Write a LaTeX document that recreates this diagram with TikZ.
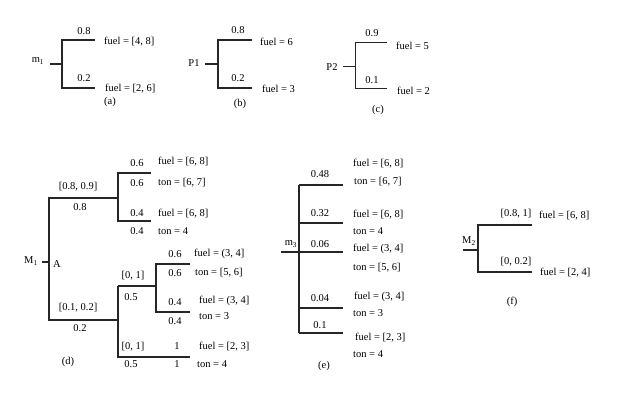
\documentclass[tikz,border=0pt]{standalone}
\usepackage{fontspec}
\setmainfont{Liberation Serif}
\begin{document}
\begin{tikzpicture}[x=1pt,y=-1pt,
  br/.style={line width=1.1pt,black!85},
  t/.style={font=\fontsize{10.5}{12}\selectfont,inner sep=0pt},
  tl/.style={t,anchor=west}]
\useasboundingbox (0,0) rectangle (640,406);
% (a)
\coordinate (a0) at (50,64); \coordinate (a1) at (62,64);
\coordinate (a2) at (62,40); \coordinate (a3) at (62,88);
\coordinate (a4) at (95,40); \coordinate (a5) at (95,88);
\draw[br] (a0)--(a1); \draw[br] (a4)--(a2)--(a3)--(a5);
\node[t] (am) at (38,61) {m\textsubscript{1}};
\node[t] (ap1) at (84,31) {0.8};
\node[t] (ap2) at (84,78) {0.2};
\node[tl] (af1) at (104,42) {fuel = [4, 8]};
\node[tl] (af2) at (105,89) {fuel = [2, 6]};
\node[t] (al) at (110,102) {(a)};
% (b)
\coordinate (b0) at (205,64); \coordinate (b1) at (218,64);
\coordinate (b2) at (218,40); \coordinate (b3) at (218,88);
\coordinate (b4) at (252,40); \coordinate (b5) at (252,88);
\draw[br] (b0)--(b1); \draw[br] (b4)--(b2)--(b3)--(b5);
\node[t] (bm) at (194,63) {P1};
\node[t] (bp1) at (238,30) {0.8};
\node[t] (bp2) at (238,78) {0.2};
\node[tl] (bf1) at (260,42) {fuel = 6};
\node[tl] (bf2) at (262,89) {fuel = 3};
\node[t] (bl) at (240,104) {(b)};
% (c)
\coordinate (c0) at (343,66); \coordinate (c1) at (355,66);
\coordinate (c2) at (355,42); \coordinate (c3) at (355,88);
\coordinate (c4) at (387,42); \coordinate (c5) at (387,88);
\draw[br,line width=0.7pt] (c0)--(c1); \draw[br,line width=0.7pt] (c4)--(c2)--(c3)--(c5);
\node[t] (cm) at (332,67) {P2};
\node[t] (cp1) at (372,33) {0.9};
\node[t] (cp2) at (372,80) {0.1};
\node[tl] (cf1) at (396,46) {fuel = 5};
\node[tl] (cf2) at (397,91) {fuel = 2};
\node[t] (cl) at (378,110) {(c)};
% (d)
\coordinate (d0) at (42,262); \coordinate (d1) at (49,262);
\coordinate (d2) at (49,198); \coordinate (d3) at (49,320);
\coordinate (d4) at (118,198); \coordinate (d5) at (118,320);
\draw[br] (d0)--(d1); \draw[br] (d4)--(d2)--(d3)--(d5);
\node[t] (dm) at (31,261) {M\textsubscript{1}};
\node[t] (dA) at (57,264) {A};
\node[t] (dq1) at (78,187) {[0.8, 0.9]};
\node[t] (dp1) at (80,207) {0.8};
\node[t] (dq2) at (78,308) {[0.1, 0.2]};
\node[t] (dp2) at (80,328) {0.2};
\coordinate (e1) at (118,173); \coordinate (e2) at (118,221);
\coordinate (e3) at (151,173); \coordinate (e4) at (151,221);
\draw[br] (e3)--(e1)--(e2)--(e4);
\node[t] at (137,163) {0.6}; \node[t] at (137,183) {0.6};
\node[tl] at (158,162) {fuel = [6, 8]}; \node[tl] at (158,183) {ton = [6, 7]};
\node[t] at (137,213) {0.4}; \node[t] at (137,231) {0.4};
\node[tl] at (158,214) {fuel = [6, 8]}; \node[tl] at (158,231) {ton = 4};
\coordinate (f1) at (118,286); \coordinate (f2) at (118,357);
\coordinate (f3) at (156,286); \coordinate (f4) at (190,357);
\draw[br] (d5)--(f1); \draw[br] (f1)--(f2)--(f4); \draw[br] (f1)--(f3);
\node[t] at (133,276) {[0, 1]}; \node[t] at (131,297) {0.5};
\node[t] at (133,347) {[0, 1]}; \node[t] at (131,364) {0.5};
\node[t] at (177,346) {1}; \node[t] at (177,364) {1};
\node[tl] at (199,347) {fuel = [2, 3]}; \node[tl] at (197,364) {ton = 4};
\coordinate (g1) at (156,264); \coordinate (g2) at (156,312);
\coordinate (g3) at (190,264); \coordinate (g4) at (190,312);
\draw[br] (g3)--(g1)--(g2)--(g4);
\node[t] at (175,254) {0.6}; \node[t] at (175,273) {0.6};
\node[tl] at (194,254) {fuel = (3, 4]}; \node[tl] at (195,273) {ton = [5, 6]};
\node[t] at (175,302) {0.4}; \node[t] at (175,321) {0.4};
\node[tl] at (199,301) {fuel = (3, 4]}; \node[tl] at (199,316) {ton = 3};
\node[t] (dl) at (68,362) {(d)};
% (e)
\coordinate (h0) at (281,252); \coordinate (h1) at (299,252);
\coordinate (h2) at (299,185); \coordinate (h3) at (299,333);
\draw[br] (h0)--(h1); \draw[br] (h2)--(h3);
\foreach \y/\p/\ly in {185/0.48/174,223/0.32/213,252/0.06/244,308/0.04/298,333/0.1/325}{
  \draw[br] (299,\y)--(343,\y);
  \node[t] at (320,\ly) {\p};}
\node[t] (em) at (291,244) {m\textsubscript{3}};
\node[tl] at (353,164) {fuel = [6, 8]}; \node[tl] at (354,182) {ton = [6, 7]};
\node[tl] at (353,215) {fuel = [6, 8]}; \node[tl] at (353,231) {ton = 4};
\node[tl] at (353,249) {fuel = (3, 4]}; \node[tl] at (353,268) {ton = [5, 6]};
\node[tl] at (354,297) {fuel = (3, 4]}; \node[tl] at (353,313) {ton = 3};
\node[tl] at (355,338) {fuel = [2, 3]}; \node[tl] at (353,354) {ton = 4};
\node[t] (el) at (324,366) {(e)};
% (f)
\coordinate (k0) at (463,250); \coordinate (k1) at (478,250);
\coordinate (k2) at (478,225); \coordinate (k3) at (478,272);
\coordinate (k4) at (532,225); \coordinate (k5) at (532,272);
\draw[br] (k0)--(k1); \draw[br] (k4)--(k2)--(k3)--(k5);
\node[t] (fm) at (469,241) {M\textsubscript{2}};
\node[t] at (516,214) {[0.8, 1]};
\node[t] at (516,262) {[0, 0.2]};
\node[tl] at (539,216) {fuel = [6, 8]};
\node[tl] at (540,273) {fuel = [2, 4]};
\node[t] (fl) at (512,302) {(f)};
\end{tikzpicture}
\end{document}
